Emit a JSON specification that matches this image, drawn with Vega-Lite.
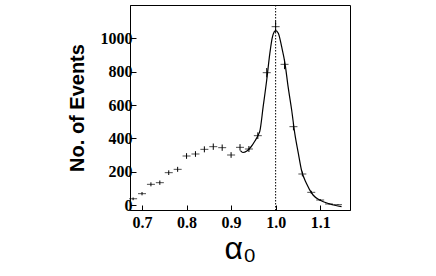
{
  "$schema": "https://vega.github.io/schema/vega-lite/v6.json",
  "width": 220,
  "height": 205,
  "autosize": {"type": "none"},
  "padding": {"left": 130, "top": 5, "right": 86, "bottom": 66},
  "background": "white",
  "config": {
    "view": {"stroke": "black", "strokeWidth": 1},
    "axis": {"domainColor": "black", "tickColor": "black", "labelColor": "black", "titleColor": "black", "grid": false, "domainWidth": 1, "tickWidth": 1}
  },
  "datasets": {
    "hist": [
      {"alpha": 0.68, "n": 37, "err": 8},
      {"alpha": 0.70, "n": 68, "err": 10},
      {"alpha": 0.72, "n": 124, "err": 12},
      {"alpha": 0.74, "n": 134, "err": 13},
      {"alpha": 0.76, "n": 194, "err": 14},
      {"alpha": 0.78, "n": 214, "err": 15},
      {"alpha": 0.80, "n": 294, "err": 17},
      {"alpha": 0.82, "n": 306, "err": 17},
      {"alpha": 0.84, "n": 334, "err": 18},
      {"alpha": 0.86, "n": 350, "err": 19},
      {"alpha": 0.88, "n": 344, "err": 19},
      {"alpha": 0.90, "n": 300, "err": 17},
      {"alpha": 0.92, "n": 346, "err": 19},
      {"alpha": 0.94, "n": 336, "err": 18},
      {"alpha": 0.96, "n": 416, "err": 20},
      {"alpha": 0.98, "n": 794, "err": 28},
      {"alpha": 1.00, "n": 1070, "err": 33},
      {"alpha": 1.02, "n": 844, "err": 29},
      {"alpha": 1.04, "n": 470, "err": 22},
      {"alpha": 1.06, "n": 186, "err": 14},
      {"alpha": 1.08, "n": 76, "err": 9},
      {"alpha": 1.10, "n": 30, "err": 6},
      {"alpha": 1.12, "n": 6, "err": 3},
      {"alpha": 1.14, "n": 2, "err": 2}
    ],
    "fit": [
      {"alpha": 0.921, "n": 326},
      {"alpha": 0.9265, "n": 315},
      {"alpha": 0.9355, "n": 324},
      {"alpha": 0.9445, "n": 348},
      {"alpha": 0.9535, "n": 384},
      {"alpha": 0.961, "n": 420},
      {"alpha": 0.9647, "n": 445},
      {"alpha": 0.972, "n": 590},
      {"alpha": 0.980, "n": 750},
      {"alpha": 0.987, "n": 910},
      {"alpha": 0.993, "n": 1010},
      {"alpha": 1.0, "n": 1046},
      {"alpha": 1.006, "n": 1030},
      {"alpha": 1.0135, "n": 950},
      {"alpha": 1.021, "n": 850},
      {"alpha": 1.028, "n": 710},
      {"alpha": 1.036, "n": 570},
      {"alpha": 1.043, "n": 430},
      {"alpha": 1.051, "n": 310},
      {"alpha": 1.058, "n": 210},
      {"alpha": 1.069, "n": 130},
      {"alpha": 1.084, "n": 60},
      {"alpha": 1.099, "n": 30},
      {"alpha": 1.122, "n": 6},
      {"alpha": 1.148, "n": -10}
    ]
  },
  "layer": [
    {
      "data": {"name": "hist"},
      "mark": {"type": "tick", "orient": "horizontal", "size": 8, "thickness": 1, "color": "black"},
      "encoding": {
        "x": {
          "field": "alpha", "type": "quantitative",
          "scale": {"domain": [0.673, 1.167], "nice": false, "zero": false},
          "title": "α₀",
          "axis": {
            "values": [0.7, 0.8, 0.9, 1.0, 1.1],
            "format": ".1f",
            "tickSize": -5,
            "labelFont": "Liberation Serif", "labelFontWeight": "bold", "labelFontSize": 16,
            "labelPadding": 9,
            "titleFont": "Liberation Sans", "titleFontSize": 32, "titleFontWeight": "normal",
            "titlePadding": 3
          }
        },
        "y": {
          "field": "n", "type": "quantitative",
          "scale": {"domain": [-30, 1200], "nice": false, "zero": false},
          "title": "No. of Events",
          "axis": {
            "values": [0, 50, 100, 150, 200, 250, 300, 350, 400, 450, 500, 550, 600, 650, 700, 750, 800, 850, 900, 950, 1000, 1050, 1100, 1150],
            "labelExpr": "datum.value % 200 == 0 ? datum.value : ''",
            "tickSize": {"condition": {"test": "datum.value % 200 == 0", "value": -6}, "value": -3},
            "labelFont": "Liberation Serif", "labelFontWeight": "bold", "labelFontSize": 16,
            "labelPadding": 4, "labelOverlap": false, "labelFlush": false,
            "titleFont": "Liberation Sans", "titleFontSize": 20, "titleFontWeight": "bold",
            "titleX": -53, "titleBaseline": "middle"
          }
        }
      }
    },
    {
      "data": {"name": "hist"},
      "mark": {"type": "errorbar", "color": "black", "thickness": 1},
      "encoding": {
        "x": {"field": "alpha", "type": "quantitative", "title": "α₀"},
        "y": {"field": "n", "type": "quantitative", "title": "No. of Events"},
        "yError": {"field": "err"}
      }
    },
    {
      "data": {"name": "fit"},
      "mark": {"type": "line", "color": "black", "strokeWidth": 1.2, "interpolate": "monotone"},
      "encoding": {
        "x": {"field": "alpha", "type": "quantitative"},
        "y": {"field": "n", "type": "quantitative"}
      }
    },
    {
      "data": {"values": [{"a": 1.0}]},
      "mark": {"type": "rule", "color": "black", "strokeWidth": 1, "strokeDash": [1.5, 1.5]},
      "encoding": {"x": {"field": "a", "type": "quantitative"}}
    }
  ]
}
